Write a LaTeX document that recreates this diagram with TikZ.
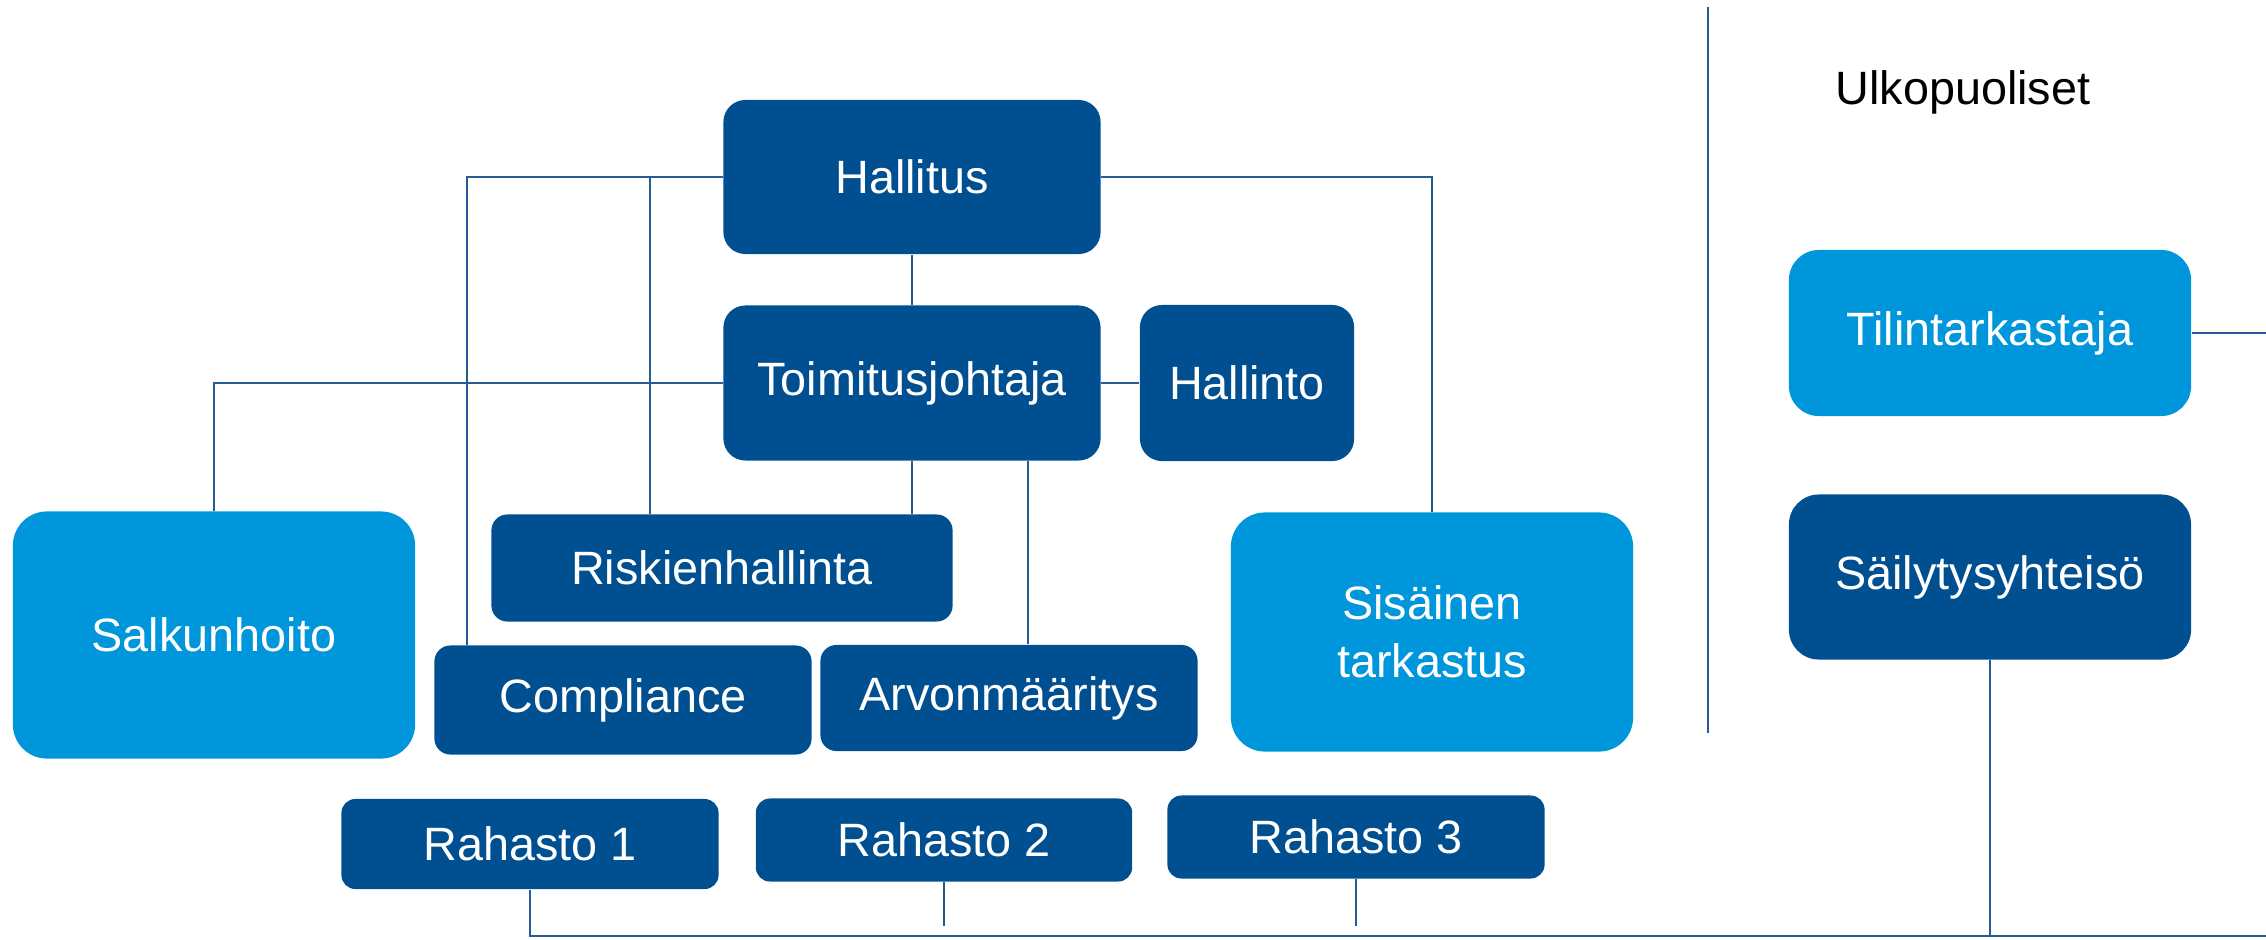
\documentclass[tikz,border=0pt]{standalone}
\usepackage{fontspec}
\setmainfont{Liberation Sans}
\usetikzlibrary{positioning}
\definecolor{tumma}{RGB}{0,79,145}
\definecolor{vaalea}{RGB}{0,150,219}
\definecolor{viiva}{RGB}{40,90,150}

\begin{document}
\begin{tikzpicture}[x=0.01cm, y=-0.01cm,
    box/.style={fill=tumma, text=white, rounded corners=0.22cm, inner sep=0pt, align=center,
      font=\fontsize{13.3}{16.5}\selectfont},
    light/.style={box, fill=vaalea, rounded corners=0.34cm},
    line/.style={draw=viiva, line width=0.45pt}]
            \useasboundingbox (0,0) rectangle (2266,939);

            \node[box, minimum width=3.77cm, minimum height=1.54cm] (hal) at (912,177) {Hallitus};
            \node[box, minimum width=3.77cm, minimum height=1.55cm] (toim) at (912,383) {Toimitusjohtaja};
            \node[box, minimum width=2.14cm, minimum height=1.56cm] (hto) at (1247,383) {Hallinto};
            \node[light, minimum width=4.02cm, minimum height=2.47cm] (sal) at (214,635) {Salkunhoito};
            \node[box, minimum width=4.61cm, minimum height=1.07cm, rounded corners=0.16cm] (risk) at (722,568) {Riskienhallinta};
            \node[box, minimum width=3.77cm, minimum height=1.09cm, rounded corners=0.16cm] (comp) at (623,700) {Compliance};
            \node[box, minimum width=3.77cm, minimum height=1.06cm, rounded corners=0.16cm] (arvo) at (1009,698) {Arvonmääritys};
            \node[light, minimum width=4.02cm, minimum height=2.39cm] (sis) at (1432,632) {Sisäinen\\tarkastus};

            \node[box, minimum width=3.77cm, minimum height=0.90cm, rounded corners=0.14cm] (r1) at (530,844) {Rahasto 1};
            \node[box, minimum width=3.76cm, minimum height=0.83cm, rounded corners=0.14cm] (r2) at (944,840) {Rahasto 2};
            \node[box, minimum width=3.77cm, minimum height=0.83cm, rounded corners=0.14cm] (r3) at (1356,837) {Rahasto 3};

            \node[font=\fontsize{13.3}{16}\selectfont] (ulko) at (1963,92) {Ulkopuoliset};
            \node[light, minimum width=4.02cm, minimum height=1.66cm, rounded corners=0.3cm] (tili) at (1990,333) {Tilintarkastaja};
            \node[box, minimum width=4.02cm, minimum height=1.65cm, rounded corners=0.3cm] (sail) at (1990,577) {Säilytysyhteisö};

            \coordinate (raja1) at (1708,7);
            \coordinate (raja2) at (1708,733);
            \coordinate (kisko) at (0,936);
            \coordinate (reuna) at (2266,0);

            \draw[line] (raja1) -- (raja2);
            \draw[line] (hal.west) -| ([xshift=0.33cm]comp.north west);
            \draw[line] (hal.west) -| ([xshift=1.59cm]risk.north west);
            \draw[line] (hal.east) -| (sis.north);
            \draw[line] (hal) -- (toim);
            \draw[line] (toim.west) -| (sal.north);
            \draw[line] (toim) -- (hto);
            \draw[line] (toim.south) -- (toim.south |- risk.north);
            \draw[line] ([xshift=1.16cm]toim.south) -- ([xshift=1.16cm]toim.south |- arvo.north);
            \draw[line] (tili.east) -- (tili.east -| reuna);

            \draw[line, line width=0.8pt] (r1.south) -- (r1.south |- kisko) -| (sail.south);
            \draw[line, line width=0.8pt] (r1.south |- kisko) -- (kisko -| reuna);
            \draw[line] (r2.south) -- ([yshift=0.1cm]r2.south |- kisko);
            \draw[line] (r3.south) -- ([yshift=0.1cm]r3.south |- kisko);
        \end{tikzpicture}
\end{document}
